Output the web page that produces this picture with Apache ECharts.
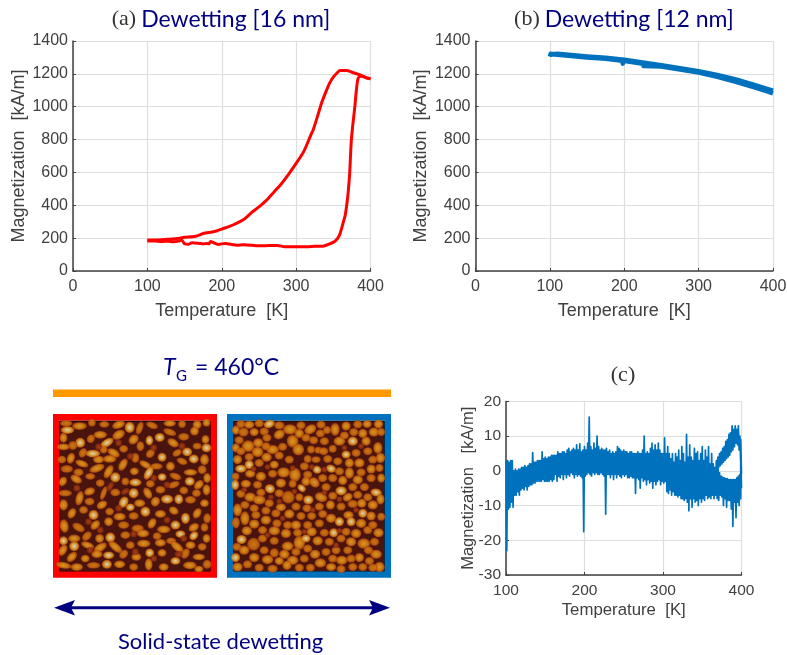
<!DOCTYPE html>
<html><head><meta charset="utf-8">
<style>html,body{margin:0;padding:0;background:#fff}#c{width:787px;height:655px}</style>
<script src="https://cdn.jsdelivr.net/npm/echarts@6/dist/echarts.min.js"></script>
</head><body><div id="c"></div>
<script>
// (a) Dewetting 16 nm: [temperature K, magnetization kA/m]
const film16Warm = [[100,183],[110,182],[120,180],[128,181],[135,178],[142,182],[146,189],[150,166],[155,163],[160,172],[170,168],[175,165],[180,168],[183,166],[185,180],[190,170],[195,162],[205,168],[215,160],[220,157],[230,160],[250,153],[265,155],[275,155],[285,148],[300,148],[315,147],[325,150],[335,150],[345,165],[352,180],[358,215],[363,290],[366,340],[368,400],[370,480],[372,595],[374,780],[376,880],[379,1002],[381,1100],[383.5,1175],[388,1185],[395,1175],[400,1170]];
const film16Cool = [[100,188],[110,188],[120,190],[130,194],[140,198],[150,205],[165,212],[175,228],[190,240],[200,255],[215,280],[230,315],[240,355],[250,390],[260,430],[270,480],[280,530],[290,590],[300,655],[310,725],[320,830],[323,860],[330,960],[334,1020],[340,1090],[345,1144],[350,1180],[355,1205],[359,1220],[368,1220],[375,1210],[385,1195],[395,1175],[400,1170]];
// (b) Dewetting 12 nm
const film12Warm = [[100,1305],[101,1322],[110,1316],[125,1310],[150,1300],[175,1292],[197,1280],[198,1262],[199,1280],[225,1262],[226,1248],[228,1260],[250,1245],[275,1226],[300,1208],[325,1182],[350,1152],[375,1118],[390,1096],[400,1082]];
const film12Cool = [[100,1318],[110,1322],[125,1316],[150,1306],[175,1298],[200,1286],[225,1270],[250,1252],[275,1234],[300,1216],[325,1194],[350,1166],[375,1132],[390,1112],[400,1098]];
// (c) difference trace: envelope [T, high, low]
const diffBand = [[100,3,-23],[102,3,-11],[104,2.5,-10.5],[106,3,-9],[108,3,-10.5],[110,0,-7],[112,0.5,-7],[114,0,-6],[116,0.5,-7],[118,0.5,-5.5],[120,1,-5],[122,1,-5.5],[124,1.5,-4.5],[126,1,-5.5],[128,1.5,-4.5],[130,2,-4],[132,2,-4],[134,5.3,-3.5],[136,2.5,-3.5],[138,2.5,-3],[140,3,-3],[142,3,-3],[144,3,-3],[146,5.5,-2.5],[148,3.5,-3],[150,4,-3],[152,3.5,-3],[154,4,-3],[156,4,-2.5],[158,4.5,-3],[160,4.5,-2.5],[162,4.5,-1],[164,4.5,-3],[166,5.5,-1.5],[168,5,-2],[170,5,-1],[172,5.5,-2.5],[174,5.5,-1],[176,5,-2],[178,6,-1],[180,6.5,-1.5],[182,5.5,-0.5],[184,6,-1],[186,6.5,-2],[188,6,-1],[190,7.5,-1.5],[192,6,-1],[194,7.8,-1.5],[196,5.5,-2],[198,6,-17.5],[200,7,-1.5],[202,6,-1],[204,8,-0.5],[206,15.5,-1],[208,7,-1.5],[210,6,-0.5],[212,8,-1],[214,6.5,-0.5],[216,10,-1],[218,7,-1],[220,6,-0.5],[222,6.5,-1],[224,6,-1.5],[226,6,-12.5],[228,6.5,-1],[230,5.5,-1],[232,6,-2],[234,5,-1],[236,5.5,-2.5],[238,5,-1],[240,5.5,-2],[242,7,-1],[244,6.5,-1.5],[246,6,-2],[248,5.5,-1],[250,6,-1.5],[252,5.5,-1],[254,5.5,-2],[256,5,-2],[258,5.5,-1.5],[260,5.5,-2],[262,5,-2],[264,5,-6.5],[266,5,-2],[268,5.5,-2.5],[270,5,-5],[272,5,-2],[274,6,-3],[276,10,-2.5],[278,5,-4],[280,5.5,-2.5],[282,5,-3.5],[284,6.5,-3],[286,8,-5],[288,6,-3],[290,7.5,-4],[292,6,-3],[294,8,-2.5],[296,6,-4],[298,5,-3],[300,5,-3.5],[302,9.5,-3],[304,5,-6],[306,7,-6.5],[308,5,-5.5],[310,3.5,-7],[312,5,-6],[314,2.5,-7],[316,5,-7],[318,4,-7.5],[320,6,-7],[322,3,-8],[324,7,-8],[326,5,-8.5],[328,2.5,-8],[330,10.5,-9],[332,4,-11.5],[334,7.5,-8],[336,4,-10.5],[338,3,-8],[340,6.5,-9],[342,5,-8.5],[344,5.5,-10],[346,3,-8],[348,5,-9],[350,7,-8],[352,3,-8.5],[354,6,-7],[356,4,-8],[358,7,-7.5],[360,2,-8],[362,5,-7],[364,2,-8],[366,1,-7],[368,3,-8],[370,2,-8.5],[372,-0.5,-7],[374,-1.5,-7.5],[376,-1.8,-10],[378,-2,-8],[380,-2.2,-10.5],[382,-2.2,-8.5],[384,-2.5,-8.5],[386,-2.5,-11],[388,-2.5,-16],[390,-2.5,-9],[392,-2.5,-13.5],[394,-2,-9],[396,-1.5,-10],[398,-1,-8],[399,5,-5]];
const diffBranch = [[368,2.5,1],[370,4,1],[372,5,1.5],[374,5.5,2],[376,6.5,2.5],[378,7,3],[380,8.5,3.5],[382,9,4],[384,10.5,4.5],[386,11,5.5],[388,13,6],[390,12,7],[392,13,8],[394,12,7.5],[396,13,6],[398,10,3],[399,9,-1]];
// AFM grains: [x, y, long, short, tilt, height class]
const grainsRed = [[48,42,9,4,0,1],[88,50,11,5,0,2],[125,40,5,5,0,1],[162,45,7,4,0,1],[205,46,10,5,20,2],[238,54,7,8,0,3],[268,56,10,4,70,1],[305,48,9,4,-20,1],[358,42,9,4,0,2],[395,44,5,5,0,1],[440,46,6,6,0,2],[468,40,5,5,0,2],
[52,62,10,5,0,3],[40,85,7,5,90,2],[90,100,7,7,0,3],[122,88,6,5,60,1],[150,76,10,5,0,2],[170,100,11,5,30,3],[205,76,10,6,30,2],[250,90,8,6,45,2],[297,93,5,7,0,3],[328,84,7,6,0,3],[270,110,7,5,90,1],[358,68,10,4,-20,1],[400,82,8,5,0,1],[432,65,6,6,0,2],[465,90,5,6,0,2],[368,100,9,5,-30,2],
[40,112,10,4,0,2],[68,108,6,6,0,1],[98,130,7,5,60,1],[128,132,11,5,0,3],[160,120,5,5,0,1],[190,130,10,5,-30,2],[220,118,6,5,0,1],[300,132,7,5,45,1],[335,143,6,6,0,3],[380,130,7,4,30,1],[410,127,7,6,0,3],[468,115,7,6,0,3],[440,110,6,4,0,1],
[35,150,6,5,0,1],[62,146,8,5,70,2],[95,162,10,4,-20,2],[145,150,8,5,0,2],[178,148,10,5,0,2],[218,165,10,5,60,2],[255,145,7,5,90,1],[285,165,10,4,-30,2],[318,170,9,4,0,1],[360,170,6,6,0,2],[395,155,8,4,-20,1],[430,148,7,6,0,3],[462,150,6,8,0,2],
[140,176,12,5,20,2],[175,186,11,5,60,2],[50,178,9,5,0,1],[85,188,7,5,0,1],[120,200,7,4,0,1],[195,203,7,7,0,3],[252,185,6,5,0,2],[295,190,11,5,60,3],[335,202,6,5,0,3],[375,200,9,4,-20,1],[420,188,10,4,0,2],[455,180,6,6,0,1],[470,205,5,7,0,2],
[38,215,7,5,60,2],[78,208,9,5,-30,2],[150,220,6,5,0,1],[225,215,5,5,0,1],[255,218,9,5,0,3],[300,222,6,5,0,1],[370,225,9,4,20,1],[418,215,7,6,0,3],[445,225,8,5,45,2],
[45,250,10,4,0,1],[88,265,11,5,75,2],[118,245,8,5,20,2],[160,250,11,3,70,1],[195,248,7,5,0,1],[250,250,7,7,0,3],[292,250,9,5,-60,2],[330,240,7,5,0,1],[400,242,6,5,0,1],[468,240,5,8,0,2],[438,250,6,5,0,1],
[40,285,6,8,0,2],[118,275,7,5,0,1],[155,285,8,5,30,2],[220,277,6,9,-30,3],[240,292,6,5,0,3],[268,280,8,5,0,2],[315,275,7,6,60,2],[350,268,9,6,0,3],[385,268,6,7,0,3],[420,270,8,5,0,1],[462,280,6,5,0,2],
[65,310,8,5,60,2],[100,300,6,5,0,1],[130,315,7,7,0,3],[178,305,6,5,0,1],[208,320,9,5,0,2],[285,305,7,7,-30,3],[250,318,7,5,0,1],[330,312,8,5,0,2],[370,302,7,5,-30,2],[405,325,6,8,0,3],[440,310,8,5,60,2],[470,325,5,7,0,1],
[42,348,6,10,10,2],[85,352,10,5,-30,1],[135,345,8,5,45,2],[175,335,6,6,0,2],[220,345,8,5,0,1],[262,355,9,5,0,1],[305,340,8,5,60,2],[375,345,7,6,0,3],[340,358,10,5,0,2],[430,352,8,5,30,2],[462,352,5,6,0,1],
[40,392,6,6,0,3],[72,385,9,5,0,2],[110,378,8,5,45,1],[148,385,6,6,0,2],[180,382,7,7,0,3],[225,375,7,5,0,1],[278,370,9,5,0,2],[390,372,7,5,0,3],[320,378,6,5,0,1],[430,377,7,5,45,3],[362,392,7,4,0,1],[468,385,5,6,0,2],
[72,408,7,7,0,3],[38,420,9,5,60,2],[112,405,10,4,-20,2],[150,412,11,5,30,2],[195,410,13,5,-40,2],[240,405,6,5,0,1],[280,400,10,5,0,2],[330,398,8,5,0,2],[380,410,12,5,-40,2],[420,405,7,5,0,2],[455,410,6,5,0,1],
[65,440,9,5,45,2],[105,445,6,5,0,2],[140,432,8,5,0,2],[175,435,8,5,0,3],[220,432,7,5,45,1],[258,440,7,5,0,2],[298,428,6,6,0,3],[335,428,6,5,0,2],[375,452,7,5,0,3],[405,430,8,5,60,1],[445,440,9,4,0,2],
[40,465,12,4,-10,2],[80,470,9,5,0,2],[130,465,10,4,0,1],[170,462,7,6,0,3],[208,462,8,5,0,2],[250,470,6,5,0,1],[295,462,5,9,0,2],[340,470,7,5,0,2],[418,465,10,5,0,2],[470,462,6,6,0,1],[445,476,6,4,0,2],
[205,100,4,4,0,0],[145,112,4,4,0,0],[240,140,4,4,0,0],[310,115,4,4,0,0],[395,110,4,4,0,0],[80,235,4,4,0,0],[225,245,6,3,30,0],[180,230,7,3,60,0],[310,205,4,4,0,0],[350,225,4,4,0,0],[205,295,4,4,0,0],[115,335,4,4,0,0],[250,372,4,4,0,0],[150,360,4,4,0,0],[350,330,4,4,0,0],[255,425,4,4,0,0],[400,385,4,4,0,0],[120,420,4,4,0,0],[310,445,4,4,0,0],[385,432,5,4,0,0]];
const grainsBlue = [[50,44,6,5,0,1],[75,46,7,5,0,2],[105,42,6,5,0,1],[135,44,8,5,20,3],[165,48,7,5,0,1],[197,60,10,7,0,2],[230,48,6,5,0,1],[258,60,9,6,30,2],[290,46,6,5,0,1],[332,60,6,9,0,2],[365,50,6,6,0,2],[400,45,6,5,0,1],[428,44,6,5,0,2],[462,44,6,6,0,2],
[35,62,5,6,0,2],[58,68,7,6,0,1],[90,68,6,5,0,2],[120,66,6,5,0,1],[165,75,8,6,30,2],[225,72,6,6,0,2],[288,72,6,5,0,1],[308,62,5,5,0,1],[360,78,6,5,0,1],[388,68,6,5,0,1],[415,72,6,6,0,2],[448,68,7,6,0,2],[470,68,5,5,0,1],
[45,92,6,5,0,1],[72,110,9,8,0,2],[102,100,7,6,0,2],[128,85,6,5,0,1],[145,120,9,6,0,2],[205,95,8,9,0,2],[245,85,6,5,0,1],[268,92,6,5,0,1],[300,95,6,5,0,1],[345,95,8,6,0,2],[385,95,7,6,0,3],[425,95,6,6,0,2],[460,115,6,8,0,2],
[35,115,5,6,0,2],[50,125,6,5,0,1],[100,127,8,7,0,2],[125,110,6,5,0,1],[175,112,6,5,0,1],[222,120,8,8,0,2],[260,120,5,5,0,1],[282,122,5,4,0,1],[298,125,6,5,0,1],[325,118,5,5,0,1],[365,135,6,5,0,3],[395,130,6,5,0,1],[430,125,6,5,0,1],
[40,150,6,6,0,2],[75,142,6,5,0,1],[127,143,7,6,0,2],[165,138,6,5,0,1],[195,150,6,5,0,1],[250,148,5,5,0,1],[275,150,6,4,0,1],[310,148,6,5,0,1],[340,155,6,5,0,1],[375,160,6,6,0,2],[405,160,7,6,0,2],[445,150,6,5,0,1],[468,145,6,7,0,2],
[50,177,8,5,0,3],[75,165,6,6,0,3],[105,160,6,5,0,1],[150,165,6,5,0,2],[178,188,9,7,0,2],[212,195,8,10,0,2],[240,170,6,5,0,1],[278,180,6,5,-20,3],[320,177,7,5,-20,3],[345,185,6,5,0,1],[375,190,6,8,0,2],[410,188,6,5,0,1],[440,178,6,6,0,2],[465,175,5,5,0,1],
[34,200,5,5,0,1],[78,192,7,5,0,2],[110,200,7,6,0,2],[145,192,6,5,0,1],[250,195,6,5,0,1],[295,205,6,5,0,1],[325,205,6,5,0,1],[355,212,6,6,0,2],[400,210,7,6,0,2],[440,205,6,5,0,1],[470,205,5,6,0,2],
[33,225,5,7,0,3],[65,222,7,5,0,2],[100,225,6,5,0,1],[137,237,7,6,-20,3],[170,220,7,6,0,2],[205,222,5,5,0,1],[232,235,6,4,-40,3],[245,215,6,6,0,2],[270,218,6,8,45,2],[305,232,6,5,0,1],[350,243,8,6,0,3],[385,232,6,5,0,1],[420,232,6,5,0,1],[455,248,8,5,-10,3],
[50,252,6,5,0,1],[78,262,8,6,0,2],[110,248,6,5,0,1],[105,270,9,6,0,2],[165,250,6,5,0,1],[192,262,9,9,0,1],[225,262,5,5,0,1],[252,270,7,6,0,3],[290,262,9,6,-20,2],[325,258,6,5,0,1],[370,262,7,5,30,2],[400,255,6,5,0,1],[430,262,6,5,0,1],[468,268,5,7,0,2],
[40,300,6,9,0,2],[62,285,6,5,0,1],[90,295,6,5,0,1],[135,280,6,5,0,1],[170,292,7,5,0,2],[215,290,6,5,0,1],[248,295,6,5,0,1],[285,290,6,5,0,1],[318,285,6,6,0,2],[350,290,6,5,0,1],[385,282,7,5,0,1],[412,280,6,6,0,2],[445,285,7,6,0,2],
[62,325,6,10,0,2],[95,315,6,5,0,1],[125,302,6,5,0,1],[125,330,7,6,0,2],[155,310,6,5,0,1],[195,312,7,6,0,2],[230,318,6,5,0,1],[262,318,6,5,0,1],[295,312,6,5,0,1],[320,325,7,6,0,2],[372,315,7,5,0,2],[415,310,6,6,0,3],[440,318,6,6,0,2],[470,320,5,5,0,1],
[35,338,5,8,0,1],[90,342,7,6,0,2],[158,340,6,5,0,1],[190,345,6,5,0,1],[215,345,7,6,0,2],[250,345,6,5,0,1],[285,340,6,5,0,1],[345,335,6,6,0,3],[380,335,6,6,0,3],[410,340,7,6,0,2],[445,345,6,5,0,1],
[68,362,7,6,0,2],[115,360,6,5,0,1],[150,362,8,6,0,2],[185,370,7,6,0,2],[220,368,6,5,0,1],[262,365,7,6,0,2],[300,368,6,5,0,1],[328,368,6,6,0,3],[365,365,6,5,0,1],[395,370,7,6,0,2],[430,360,6,5,0,1],[462,368,7,6,0,2],
[52,388,7,6,0,3],[88,402,9,9,0,1],[115,385,6,5,0,1],[150,392,6,5,0,1],[190,408,8,6,0,2],[225,398,8,10,0,2],[245,385,6,5,0,3],[280,392,7,6,0,2],[315,395,6,5,0,1],[350,385,6,5,0,1],[380,395,7,6,0,2],[418,400,9,7,0,2],[450,395,6,5,0,1],
[38,410,6,5,0,1],[60,420,7,6,0,2],[120,420,6,5,0,1],[150,428,6,6,0,1],[180,432,7,6,0,2],[215,425,6,5,0,1],[250,415,6,5,0,1],[272,432,7,6,0,2],[305,425,6,5,0,1],[335,420,6,5,0,1],[370,420,6,5,0,1],[405,442,6,6,0,2],[455,432,8,6,0,2],[432,420,6,5,0,1],
[34,442,6,6,0,3],[90,442,7,6,0,2],[130,448,8,6,0,2],[165,452,6,5,0,2],[205,450,8,6,0,2],[240,445,6,5,0,1],[288,458,8,6,0,2],[325,445,6,5,0,1],[352,450,8,6,0,2],[380,445,6,5,0,1],[435,452,6,5,0,1],[465,470,7,7,0,2],
[40,470,7,6,0,2],[70,462,6,5,0,1],[105,472,6,5,0,1],[145,475,7,5,0,1],[188,465,6,6,0,2],[225,472,6,5,0,1],[258,472,6,5,0,1],[320,470,7,5,0,2],[350,476,6,5,0,1],[385,470,6,5,0,1],[415,470,6,5,0,1],[445,472,6,5,0,1],
[88,178,3,3,0,0],[130,172,3,3,0,0],[205,175,3,3,0,0],[262,172,3,3,0,0],[300,180,3,3,0,0],[360,115,3,3,0,0],[410,110,3,3,0,0],[60,240,3,3,0,0],[140,262,3,3,0,0],[210,245,3,3,0,0],[300,248,3,3,0,0],[345,268,3,3,0,0],[165,275,3,3,0,0],[265,300,3,3,0,0],[395,300,3,3,0,0],[175,325,3,3,0,0],[345,362,3,3,0,0],[130,375,3,3,0,0],[240,365,3,3,0,0],[335,405,3,3,0,0]];
const grainTones = [
 {type:'radial',x:.5,y:.5,r:.5,colorStops:[{offset:0,color:'#c04a14'},{offset:1,color:'#84280e'}]},
 {type:'radial',x:.5,y:.5,r:.5,colorStops:[{offset:0,color:'#e88e14'},{offset:.65,color:'#d8750f'},{offset:1,color:'#a83c0e'}]},
 {type:'radial',x:.5,y:.5,r:.5,colorStops:[{offset:0,color:'#f8b62a'},{offset:.6,color:'#e88c12'},{offset:1,color:'#b0440e'}]},
 {type:'radial',x:.5,y:.5,r:.5,colorStops:[{offset:0,color:'#fffbe8'},{offset:.3,color:'#fde08a'},{offset:.7,color:'#f0a020'},{offset:1,color:'#b84c10'}]}
];
const INK='#404040', SANS='Liberation Sans', NAVY='#000080', CM='Lato';
function zigzag(b){const o=[];b.forEach(r=>{o.push([r[0],r[1]]);o.push([r[0]+1,r[2]]);});return o;}
function axisCommon(font,nameFont,margin,pad){return {
 nameTextStyle:{color:INK,fontFamily:SANS,fontSize:nameFont},nameMoveOverlap:false,axisLine:{show:true,onZero:false,lineStyle:{color:INK,width:1.5}},axisTick:{show:true,inside:true,length:3,lineStyle:{color:INK}},
 axisLabel:{color:INK,fontFamily:SANS,fontSize:font,margin,padding:pad,showMinLabel:true,showMaxLabel:true,hideOverlap:false,formatter:v=>String(v)},splitLine:{show:true,lineStyle:{color:'#dedede',width:1.2}}};}
function axisX(i,min,font,nameFont,gap,margin){return Object.assign(axisCommon(font,nameFont,margin,0),{gridIndex:i,type:'value',min,max:400,interval:100,name:'Temperature  [K]',nameLocation:'middle',nameGap:gap});}
function axisY(i,min,max,interval,font,nameFont,gap,name){return Object.assign(axisCommon(font,nameFont,5,[3,0,0,0]),{gridIndex:i,type:'value',min,max,interval,name,nameLocation:'middle',nameGap:gap});}
function lineSeries(i,data,color,width,smooth){return {type:'line',xAxisIndex:i,yAxisIndex:i,data,showSymbol:false,symbol:'none',smooth:smooth||false,animation:false,lineStyle:{color,width,join:'round'},z:3};}
function grainSeries(i,list,a,b){return {type:'scatter',xAxisIndex:i,yAxisIndex:i,animation:false,clip:true,silent:true,
 data:list.map(g=>({value:[g[0],g[1]],symbolSize:[g[2]*a+b,g[3]*a+b],symbolRotate:g[4],itemStyle:{color:grainTones[g[5]]}}))};}
function hiddenX(i){return {gridIndex:i,type:'value',min:28,max:480,show:false};}
function hiddenY(i){return {gridIndex:i,type:'value',min:35,max:484,inverse:true,show:false};}
const G=(left,top,width,height)=>({left,top,width,height,outerBoundsMode:'none'});
const imgGrid=(left)=>Object.assign(G(left,421,151,150.7),{show:true,backgroundColor:'#4a140e',borderColor:'#000',borderWidth:1});
const richTitle={s:{fontFamily:'Liberation Serif',fontSize:22,fontWeight:'normal',color:'#333'},n:{fontFamily:CM,fontSize:23,fontWeight:'normal',color:NAVY}};
const option={animation:false,backgroundColor:'#fff',
 grid:[G(73,41,297.5,230),G(475.5,41,297.5,230),G(506,401.5,235.5,173.5),imgGrid(59.5),imgGrid(233.5)],
 xAxis:[axisX(0,0,16,18,31,8),axisX(1,0,16,18,31,8),axisX(2,100,15.5,16.8,27,8),hiddenX(3),hiddenX(4)],
 yAxis:[axisY(0,0,1400,200,16,18,45,'Magnetization  [kA/m]'),axisY(1,0,1400,200,16,18,45,'Magnetization  [kA/m]'),axisY(2,-30,20,10,15.5,16.5,29,'Magnetization   [kA/m]'),hiddenY(3),hiddenY(4)],
 series:[lineSeries(0,film16Warm,'#ff0000',3,0.25),lineSeries(0,film16Cool,'#ff0000',3,0.25),
  lineSeries(1,film12Warm,'#0072bd',4.5),lineSeries(1,film12Cool,'#0072bd',4.5),
  lineSeries(2,zigzag(diffBand),'#0072bd',1.7),lineSeries(2,zigzag(diffBranch),'#0072bd',1.7),
  grainSeries(3,grainsRed,1.15,2),grainSeries(4,grainsBlue,1.2,2)],
 title:[
  {left:216,top:3,textAlign:'center',text:'{s|(a)} {n|Dewetting [16 nm]}',textStyle:{rich:richTitle}},
  {left:619,top:3,textAlign:'center',text:'{s|(b)} {n|Dewetting [12 nm]}',textStyle:{rich:richTitle}},
  {left:618,top:359,textAlign:'center',text:'(c)',textStyle:{fontFamily:'Liberation Serif',fontSize:22,fontWeight:'normal',color:'#333'}}
 ],
 graphic:[
  {type:'text',left:163,top:356,style:{text:'T',font:'italic 23px Lato',fill:NAVY}},
  {type:'text',left:176,top:369,style:{text:'G',font:'15px Lato',fill:NAVY}},
  {type:'text',left:195,top:356,style:{text:'= 460°C',font:'23px Lato',fill:NAVY}},
  {type:'rect',shape:{x:53,y:389.5,width:338,height:7.5},style:{fill:'#ff9900'}},
  {type:'rect',shape:{x:56.2,y:417.2,width:157.6,height:157.4},style:{fill:'none',stroke:'#ff0000',lineWidth:6.4}},
  {type:'rect',shape:{x:230.2,y:417.2,width:157.6,height:157.4},style:{fill:'none',stroke:'#0072bd',lineWidth:6.4}},
  {type:'line',shape:{x1:66,y1:607.7,x2:378,y2:607.7},style:{stroke:NAVY,lineWidth:3}},
  {type:'polygon',shape:{points:[[54,607.7],[75,600],[71,607.7],[75,615.5]]},style:{fill:NAVY}},
  {type:'polygon',shape:{points:[[390,607.7],[369,600],[373,607.7],[369,615.5]]},style:{fill:NAVY}},
  {type:'text',left:118,top:631,style:{text:'Solid-state dewetting',font:'22px Lato',fill:NAVY}}
 ]};
echarts.init(document.getElementById('c'),null,{renderer:'canvas'}).setOption(option);
</script></body></html>
